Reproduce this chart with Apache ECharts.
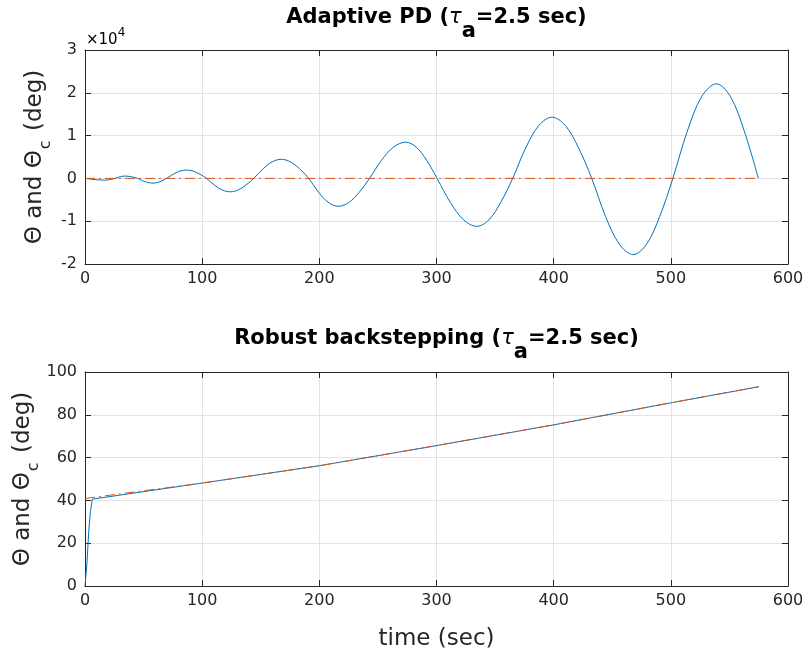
<!DOCTYPE html>
<html>
<head>
<meta charset="utf-8">
<script src="https://cdn.jsdelivr.net/npm/echarts@6/dist/echarts.min.js"></script>
<style>
  html, body { margin: 0; padding: 0; background: #fff; }
  #chart { width: 804px; height: 651px; }
</style>
</head>
<body>
<div id="chart"></div>
<script>
// ---- Adaptive PD response (deg) ----
const pdTime = [
  0, 5.7, 11.3, 17, 19.9, 22.7,
  25.6, 28.4, 31.2, 34, 37.7, 41.3,
  45, 49.3, 53.7, 58, 61.9, 65.7,
  69.6, 75.3, 81, 86.7, 92.4, 98,
  103.7, 110.5, 117.2, 124, 130.7, 137.3,
  144, 151.9, 159.7, 167.6, 175.4, 183.2,
  191, 199.4, 207.9, 216.3, 225.1, 234,
  242.8, 253.1, 263.4, 273.7, 282.6, 291.6,
  300.5, 311.8, 323.2, 334.5, 344.7, 354.8,
  365, 376.2, 387.4, 398.6, 409.9, 421.2,
  432.5, 444.3, 456.2, 468, 479.2, 490.5,
  501.7, 514.1, 526.4, 538.8, 550.8, 562.7,
  574.7];
const pdTheta = [
  0, -200, -345, -400, -345, -200,
  0, 275, 475, 550, 475, 275,
  0, -550, -950, -1100, -950, -550,
  0, 980, 1700, 1960, 1700, 980,
  0, -1565, -2710, -3130, -2710, -1565,
  0, 2230, 3860, 4460, 3860, 2230,
  0, -3255, -5640, -6510, -5640, -3255,
  0, 4235, 7335, 8470, 7335, 4235,
  0, -5600, -9700, -11200, -9700, -5600,
  0, 7150, 12380, 14300, 12380, 7150,
  0, -8900, -15415, -17800, -15415, -8900,
  0, 11050, 19140, 22100, 19140, 11050,
  0];
const pdCmdTime = [0, 574.7];
const pdCmdTheta = [0, 0];

// ---- Robust backstepping response (deg) ----
const rbTime = [0, 1.7, 3.1, 4.6, 6.3, 8, 100, 200, 300, 400, 500, 575];
const rbTheta = [0, 10.8, 24.8, 34.8, 40.6, 41.5, 48.1, 56.2, 65.6, 75.3, 85.6, 93.1];
const rbCmdTime = [0, 100, 200, 300, 400, 500, 575];
const rbCmdTheta = [40.9, 48.1, 56.2, 65.6, 75.3, 85.6, 93.1];

// ---- axis ticks ----
const timeTicks = { min: 0, max: 600, step: 100 };
const pdTicks = { min: -20000, max: 30000, step: 10000, scale: 10000 };
const rbTicks = { min: 0, max: 100, step: 20 };

const FONT = 'DejaVu Sans';
const INK = '#262626';
const GRID = '#e3e3e3';
const BLUE = '#0072BD';
const RED = '#D95319';

const pairs = (xs, ys) => xs.map((x, i) => [x, ys[i]]);

function xAxisPair(gridIndex, name) {
  const base = {
    gridIndex, type: 'value', min: timeTicks.min, max: timeTicks.max, interval: timeTicks.step,
    axisLine: { show: true, onZero: false, lineStyle: { color: INK, width: 1 } },
    axisTick: { show: true, inside: true, length: 6, lineStyle: { color: INK, width: 1 } }
  };
  return [
    Object.assign({}, base, {
      position: 'bottom',
      axisLabel: { show: true, margin: 7, fontFamily: FONT, fontSize: 16, color: INK },
      splitLine: { show: true, lineStyle: { color: GRID, width: 1 } },
      name: name || '',
      nameLocation: 'middle',
      nameGap: 42,
      nameMoveOverlap: false,
      nameTextStyle: { fontFamily: FONT, fontSize: 23, color: INK }
    }),
    Object.assign({}, base, {
      position: 'top',
      axisLabel: { show: false },
      splitLine: { show: false }
    })
  ];
}

const yName = '{m|Θ and Θ}{s|c}{m| (deg)}';
const yRich = {
  m: { fontFamily: FONT, fontSize: 23, lineHeight: 27, verticalAlign: 'top', color: INK },
  s: { fontFamily: FONT, fontSize: 16, lineHeight: 19, verticalAlign: 'top', padding: [14, 2, 0, 1], color: INK }
};

function yAxisPair(gridIndex, ticks, formatter, nameGap) {
  const base = {
    gridIndex, type: 'value', min: ticks.min, max: ticks.max, interval: ticks.step,
    axisLine: { show: true, onZero: false, lineStyle: { color: INK, width: 1 } },
    axisTick: { show: true, inside: true, length: 6, lineStyle: { color: INK, width: 1 } }
  };
  return [
    Object.assign({}, base, {
      position: 'left',
      axisLabel: { show: true, margin: 8, fontFamily: FONT, fontSize: 16, color: INK, formatter },
      splitLine: { show: true, lineStyle: { color: GRID, width: 1 } },
      name: yName,
      nameLocation: 'middle',
      nameRotate: 90,
      nameGap,
      nameMoveOverlap: false,
      nameTextStyle: { rich: yRich }
    }),
    Object.assign({}, base, {
      position: 'right',
      axisLabel: { show: false },
      splitLine: { show: false }
    })
  ];
}

const titleRich = {
  m: { fontFamily: FONT, fontSize: 21, fontWeight: 'bold', lineHeight: 25, verticalAlign: 'top', color: '#000' },
  t: { fontFamily: FONT, fontSize: 21, fontStyle: 'italic', lineHeight: 25, verticalAlign: 'top', color: '#000' },
  s: { fontFamily: FONT, fontSize: 21, fontWeight: 'bold', lineHeight: 25, verticalAlign: 'top', padding: [14, 0, 0, 0], color: '#000' }
};

const chart = echarts.init(document.getElementById('chart'), null, { renderer: 'canvas' });

chart.setOption({
  animation: false,
  backgroundColor: '#fff',
  grid: [
    { left: 85, right: 16, top: 50, height: 214, outerBoundsMode: 'none' },
    { left: 85, right: 16, top: 372, height: 214, outerBoundsMode: 'none' }
  ],
  xAxis: [...xAxisPair(0), ...xAxisPair(1, 'time (sec)')],
  yAxis: [
    ...yAxisPair(0, pdTicks, v => String(v / pdTicks.scale), 34),
    ...yAxisPair(1, rbTicks, v => String(v), 46)
  ],
  graphic: [
    {
      type: 'text', x: 436.5, y: 7, silent: true,
      style: { text: '{m|Adaptive PD (}{t|τ}{s|a}{m|=2.5 sec)}', rich: titleRich, align: 'center', verticalAlign: 'top' }
    },
    {
      type: 'text', x: 436.5, y: 328, silent: true,
      style: { text: '{m|Robust backstepping (}{t|τ}{s|a}{m|=2.5 sec)}', rich: titleRich, align: 'center', verticalAlign: 'top' }
    },
    {
      type: 'text', x: 86, y: 27, silent: true,
      style: {
        text: '{m|×10}{p|4}',
        rich: {
          m: { fontFamily: FONT, fontSize: 15, lineHeight: 17, verticalAlign: 'top', padding: [6, 0, 0, 0], color: INK },
          p: { fontFamily: FONT, fontSize: 12, lineHeight: 14, verticalAlign: 'top', color: INK }
        },
        align: 'left', verticalAlign: 'top'
      }
    }
  ],
  series: [
    {
      type: 'line', xAxisIndex: 0, yAxisIndex: 0, data: pairs(pdTime, pdTheta),
      showSymbol: false, smooth: 0.35,
      lineStyle: { color: BLUE, width: 1 }, z: 3
    },
    {
      type: 'line', xAxisIndex: 0, yAxisIndex: 0, data: pairs(pdCmdTime, pdCmdTheta),
      showSymbol: false,
      lineStyle: { color: RED, width: 1, type: [10, 4, 2, 4] }, z: 4
    },
    {
      type: 'line', xAxisIndex: 2, yAxisIndex: 2, data: pairs(rbTime, rbTheta),
      showSymbol: false,
      lineStyle: { color: BLUE, width: 1 }, z: 3
    },
    {
      type: 'line', xAxisIndex: 2, yAxisIndex: 2, data: pairs(rbCmdTime, rbCmdTheta),
      showSymbol: false,
      lineStyle: { color: RED, width: 1, type: [10, 4, 2, 4] }, z: 4
    }
  ]
});
</script>
</body>
</html>
